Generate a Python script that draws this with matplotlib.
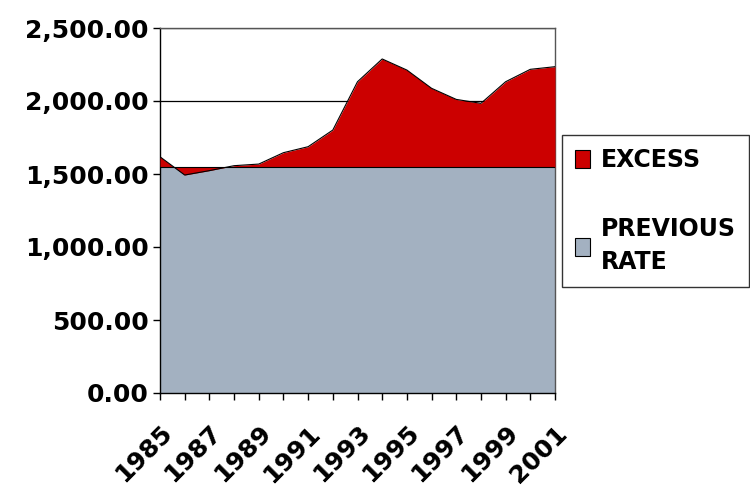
import numpy as np
import matplotlib
matplotlib.use("Agg")
import matplotlib.pyplot as plt
from matplotlib.patches import Patch
from matplotlib.ticker import FuncFormatter

years = list(range(1985, 2002))
total_rate = [1618, 1493, 1523, 1557, 1568, 1646, 1687, 1801, 2132, 2288,
              2212, 2087, 2011, 1984, 2132, 2217, 2235]
previous_rate = [1545] * len(years)
year_labels = [str(y) if (y - 1985) % 2 == 0 else "" for y in years]

red = "#CC0000"
gray = "#A3B1C1"

plt.rcParams["font.family"] = ["DejaVu Sans"]

fig = plt.figure(figsize=(7.5, 4.96), dpi=100)
ax = fig.add_axes([160 / 750, 1 - 393 / 496, 395 / 750, 365 / 496])

x = np.array(years)
tot = np.array(total_rate, dtype=float)
prev = np.array(previous_rate, dtype=float)

# base rate band, then the excess band between base and total on top
ax.fill_between(x, 0, prev, color=gray, lw=0, zorder=2)
ax.fill_between(x, prev, tot, color=red, lw=0, zorder=3)
ax.plot(x, tot, color="black", lw=0.8, zorder=4)
ax.plot(x, prev, color="black", lw=0.8, zorder=4)

ax.set_xlim(years[0], years[-1])
ax.set_ylim(0, 2500)
ax.set_yticks(np.arange(0, 2501, 500))
ax.yaxis.set_major_formatter(FuncFormatter(lambda v, p: f"{v:,.2f}"))
ax.grid(axis="y", color="black", lw=0.9, zorder=1)
ax.set_axisbelow(True)

ax.set_xticks(years)
ax.set_xticklabels(year_labels, rotation=45, ha="right", rotation_mode="anchor")
ax.tick_params(axis="both", direction="out", length=5, width=1, color="black")
ax.tick_params(axis="y", labelsize=18, pad=3)
ax.tick_params(axis="x", labelsize=18, pad=15)
for lbl in ax.get_xticklabels() + ax.get_yticklabels():
    lbl.set_fontweight("bold")

for side in ["left", "bottom"]:
    ax.spines[side].set_color("black")
    ax.spines[side].set_linewidth(1)
for side in ["top", "right"]:
    ax.spines[side].set_color("#555555")
    ax.spines[side].set_linewidth(1)

handles = [Patch(facecolor=red, edgecolor="black", lw=0.8, label="EXCESS"),
           Patch(facecolor=gray, edgecolor="black", lw=0.8, label="PREVIOUS\nRATE")]
leg = fig.legend(handles=handles, loc="upper left",
                 bbox_to_anchor=(562 / 750, 1 - 135 / 496),
                 frameon=True, fancybox=False, edgecolor="black",
                 prop={"size": 17, "weight": "bold"},
                 handlelength=0.65, handleheight=0.8, handletextpad=0.45,
                 labelspacing=1.9, borderpad=0.55, borderaxespad=0)
leg.get_frame().set_linewidth(1)
leg.get_texts()[1].set_linespacing(1.5)

fig.savefig("out.png", dpi=100, facecolor="white")
